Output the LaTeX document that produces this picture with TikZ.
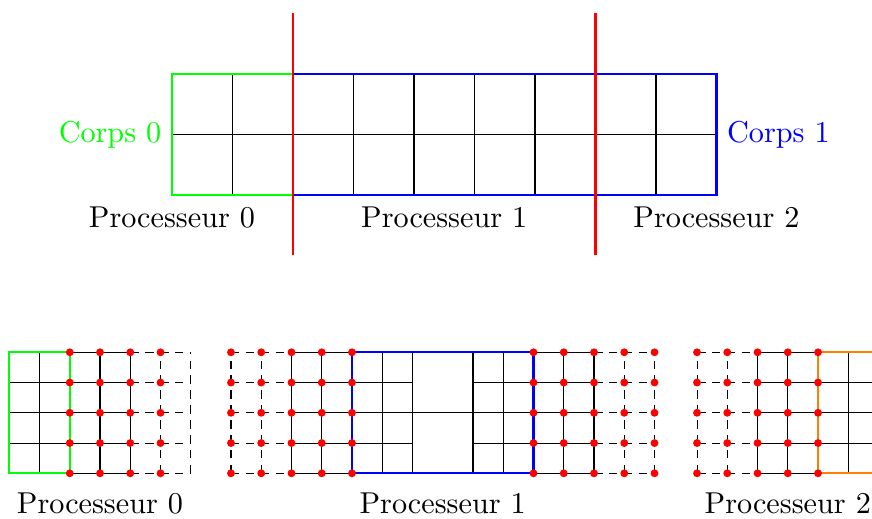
\documentclass[tikz,border=0pt]{standalone}
\begin{document}
\begin{tikzpicture}[
    grille/.style={black, line width=0.5pt},
    fantome/.style={black, line width=0.5pt, dash pattern=on 4pt off 3pt},
    bord/.style={line width=1.1pt},
    texte/.style={scale=1.42},
    noeud/.style={red},
  ]
  \definecolor{myorange}{RGB}{255,128,0}
  \clip (-2.843,-5.339) rectangle (11.570,3.223);

  % maillage global
  \draw[grille] (0,0) grid (9,2);
  \draw[bord, green] (0,0) rectangle (2,2);
  \draw[bord, blue] (2,0) rectangle (9,2);
  \draw[bord, red] (2,-1) -- (2,3);
  \draw[bord, red] (7,-1) -- (7,3);
  \node[texte, green, left] (corps0) at (0,1) {Corps 0};
  \node[texte, blue, right] (corps1) at (9,1) {Corps 1};
  \node[texte] (proc0) at (0,-0.37) {Processeur 0};
  \node[texte] (proc1) at (4.5,-0.37) {Processeur 1};
  \node[texte] (proc2) at (9,-0.37) {Processeur 2};

  % processeur 0
  \begin{scope}[shift={(-2.69,-4.6)}]
    \foreach \y in {0,0.5,...,2} {
      \draw[grille] (0,\y) -- (2,\y);
      \draw[fantome] (2,\y) -- (3,\y);
    }
    \foreach \x in {0,0.5,...,2}
      \draw[grille] (\x,0) -- (\x,2);
    \draw[fantome] (2.5,0) -- (2.5,2);
    \draw[fantome] (3,0) -- (3,2);
    \draw[bord, green] (0,0) rectangle (1,2);
    \foreach \x in {1,1.5,2,2.5}
      \foreach \y in {0,0.5,...,2}
        \fill[noeud] (\x,\y) circle (0.065);
    \node[texte] (sproc0) at (1.5,-0.5) {Processeur 0};
  \end{scope}

  % processeur 1
  \begin{scope}[shift={(0.975,-4.6)}]
    \foreach \y in {0,0.5,1.5,2} {
      \draw[grille] (1,\y) -- (3,\y);
      \draw[grille] (4,\y) -- (6,\y);
    }
    \draw[grille] (1,1) -- (6,1);
    \foreach \y in {0,0.5,...,2} {
      \draw[fantome] (0,\y) -- (1,\y);
      \draw[fantome] (6,\y) -- (7,\y);
    }
    \foreach \x in {1,1.5,2,2.5,3,4,4.5,5,5.5,6}
      \draw[grille] (\x,0) -- (\x,2);
    \foreach \x in {0,0.5,6.5,7}
      \draw[fantome] (\x,0) -- (\x,2);
    \draw[bord, blue] (2,0) rectangle (5,2);
    \foreach \x in {0,0.5,1,1.5,2,5,5.5,6,6.5,7}
      \foreach \y in {0,0.5,...,2}
        \fill[noeud] (\x,\y) circle (0.065);
    \node[texte] (sproc1) at (3.5,-0.5) {Processeur 1};
  \end{scope}

  % processeur 2
  \begin{scope}[shift={(8.678,-4.6)}]
    \foreach \y in {0,0.5,...,2} {
      \draw[fantome] (0,\y) -- (1,\y);
      \draw[grille] (1,\y) -- (3,\y);
    }
    \foreach \x in {1,1.5,...,3}
      \draw[grille] (\x,0) -- (\x,2);
    \draw[fantome] (0,0) -- (0,2);
    \draw[fantome] (0.5,0) -- (0.5,2);
    \draw[bord, myorange] (2,0) rectangle (3,2);
    \foreach \x in {0,0.5,1,1.5,2}
      \foreach \y in {0,0.5,...,2}
        \fill[noeud] (\x,\y) circle (0.065);
    \node[texte] (sproc2) at (1.5,-0.5) {Processeur 2};
  \end{scope}
\end{tikzpicture}
\end{document}
